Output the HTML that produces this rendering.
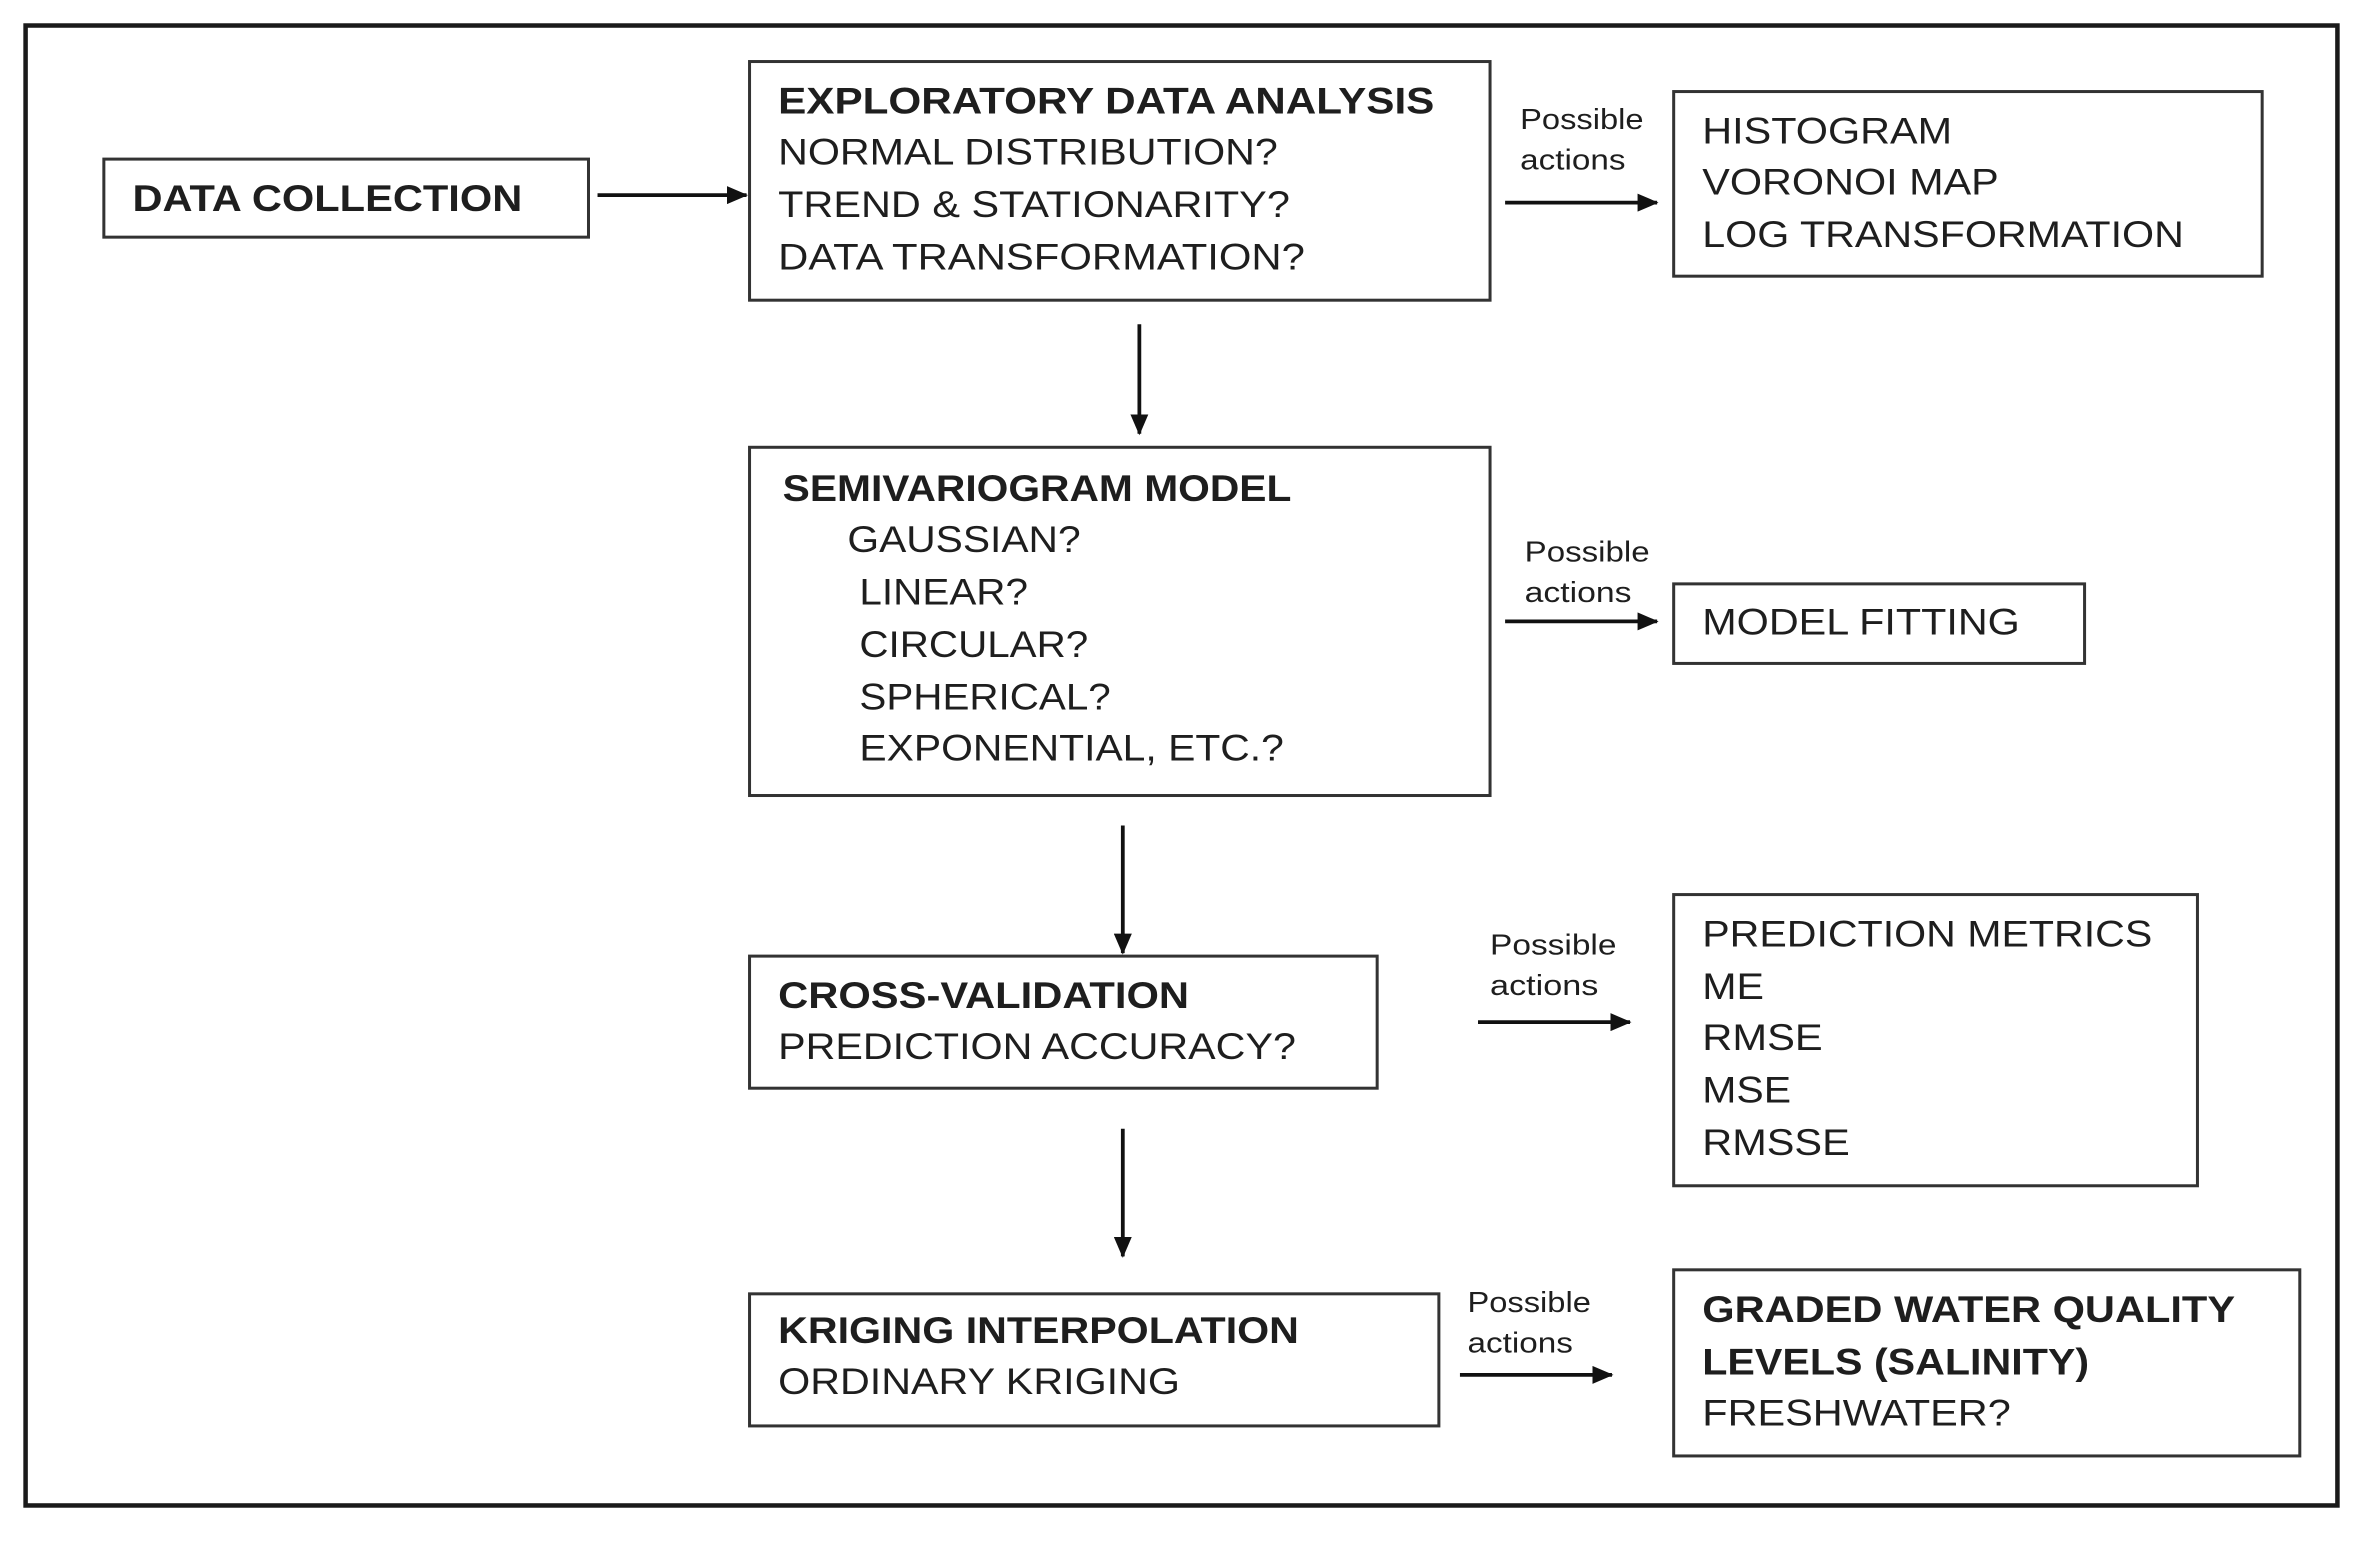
<!DOCTYPE html>
<html><head><meta charset="utf-8"><style>
html,body{margin:0;padding:0;background:#fff;}
svg{display:block;}
text{font-family:"Liberation Sans",Arial,sans-serif;fill:#1e1e1e;dominant-baseline:central;}
.b{font-weight:bold;font-size:25px;}
.n{font-size:25px;}
.s{font-size:19px;}
</style></head><body>
<svg width="2360" height="1546" viewBox="0 0 1568 1030" preserveAspectRatio="none" xmlns="http://www.w3.org/2000/svg">
<defs><marker id="a" markerWidth="8" markerHeight="8" refX="7" refY="4" orient="auto" markerUnits="userSpaceOnUse"><path d="M0,0 L8,4 L0,8 z" fill="#111"/></marker>
<marker id="a2" markerWidth="14" markerHeight="12" refX="13" refY="6" orient="auto" markerUnits="userSpaceOnUse"><path d="M0,0 L14,6 L0,12 z" fill="#111"/></marker></defs>
<rect x="17" y="17" width="1536" height="986" fill="none" stroke="#1a1a1a" stroke-width="3"/>
<g fill="none" stroke="#333" stroke-width="2">
<rect x="69" y="106" width="322" height="52"/>
<rect x="498" y="41" width="492" height="159"/>
<rect x="1112" y="61" width="391" height="123"/>
<rect x="498" y="298" width="492" height="232"/>
<rect x="1112" y="389" width="273" height="53"/>
<rect x="498" y="637" width="417" height="88"/>
<rect x="1112" y="596" width="348" height="194"/>
<rect x="498" y="862" width="458" height="88"/>
<rect x="1112" y="846" width="416" height="124"/>
</g>
<g stroke="#111" stroke-width="2.5" marker-end="url(#a2)">
<line x1="397" y1="130" x2="496" y2="130"/>
<line x1="1000" y1="135" x2="1101" y2="135"/>
<line x1="757" y1="216" x2="757" y2="289"/>
<line x1="1000" y1="414" x2="1101" y2="414"/>
<line x1="746" y1="550" x2="746" y2="635"/>
<line x1="982" y1="681" x2="1083" y2="681"/>
<line x1="746" y1="752" x2="746" y2="837"/>
<line x1="970" y1="916" x2="1071" y2="916"/>
</g>
<text class="b" x="88" y="132" textLength="259" lengthAdjust="spacingAndGlyphs">DATA COLLECTION</text>
<text class="b" x="517" y="67" textLength="436" lengthAdjust="spacingAndGlyphs">EXPLORATORY DATA ANALYSIS</text>
<text class="n" x="517" y="101" textLength="332" lengthAdjust="spacingAndGlyphs">NORMAL DISTRIBUTION?</text>
<text class="n" x="517" y="136" textLength="340" lengthAdjust="spacingAndGlyphs">TREND &amp; STATIONARITY?</text>
<text class="n" x="517" y="171" textLength="350" lengthAdjust="spacingAndGlyphs">DATA TRANSFORMATION?</text>
<text class="n" x="1131" y="87" textLength="166" lengthAdjust="spacingAndGlyphs">HISTOGRAM</text>
<text class="n" x="1131" y="121" textLength="197" lengthAdjust="spacingAndGlyphs">VORONOI MAP</text>
<text class="n" x="1131" y="156" textLength="320" lengthAdjust="spacingAndGlyphs">LOG TRANSFORMATION</text>
<text class="s" x="1010" y="80" textLength="82" lengthAdjust="spacingAndGlyphs">Possible</text>
<text class="s" x="1010" y="107" textLength="70" lengthAdjust="spacingAndGlyphs">actions</text>
<text class="b" x="520" y="325" textLength="338" lengthAdjust="spacingAndGlyphs">SEMIVARIOGRAM MODEL</text>
<text class="n" x="563" y="359" textLength="155" lengthAdjust="spacingAndGlyphs">GAUSSIAN?</text>
<text class="n" x="571" y="394" textLength="112" lengthAdjust="spacingAndGlyphs">LINEAR?</text>
<text class="n" x="571" y="429" textLength="152" lengthAdjust="spacingAndGlyphs">CIRCULAR?</text>
<text class="n" x="571" y="464" textLength="167" lengthAdjust="spacingAndGlyphs">SPHERICAL?</text>
<text class="n" x="571" y="498" textLength="282" lengthAdjust="spacingAndGlyphs">EXPONENTIAL, ETC.?</text>
<text class="s" x="1013" y="368" textLength="83" lengthAdjust="spacingAndGlyphs">Possible</text>
<text class="s" x="1013" y="395" textLength="71" lengthAdjust="spacingAndGlyphs">actions</text>
<text class="n" x="1131" y="414" textLength="211" lengthAdjust="spacingAndGlyphs">MODEL FITTING</text>
<text class="b" x="517" y="663" textLength="273" lengthAdjust="spacingAndGlyphs">CROSS-VALIDATION</text>
<text class="n" x="517" y="697" textLength="344" lengthAdjust="spacingAndGlyphs">PREDICTION ACCURACY?</text>
<text class="s" x="990" y="630" textLength="84" lengthAdjust="spacingAndGlyphs">Possible</text>
<text class="s" x="990" y="657" textLength="72" lengthAdjust="spacingAndGlyphs">actions</text>
<text class="n" x="1131" y="622" textLength="299" lengthAdjust="spacingAndGlyphs">PREDICTION METRICS</text>
<text class="n" x="1131" y="657" textLength="41" lengthAdjust="spacingAndGlyphs">ME</text>
<text class="n" x="1131" y="691" textLength="80" lengthAdjust="spacingAndGlyphs">RMSE</text>
<text class="n" x="1131" y="726" textLength="59" lengthAdjust="spacingAndGlyphs">MSE</text>
<text class="n" x="1131" y="761" textLength="98" lengthAdjust="spacingAndGlyphs">RMSSE</text>
<text class="b" x="517" y="886" textLength="346" lengthAdjust="spacingAndGlyphs">KRIGING INTERPOLATION</text>
<text class="n" x="517" y="920" textLength="267" lengthAdjust="spacingAndGlyphs">ORDINARY KRIGING</text>
<text class="s" x="975" y="868" textLength="82" lengthAdjust="spacingAndGlyphs">Possible</text>
<text class="s" x="975" y="895" textLength="70" lengthAdjust="spacingAndGlyphs">actions</text>
<text class="b" x="1131" y="872" textLength="354" lengthAdjust="spacingAndGlyphs">GRADED WATER QUALITY</text>
<text class="b" x="1131" y="907" textLength="257" lengthAdjust="spacingAndGlyphs">LEVELS (SALINITY)</text>
<text class="n" x="1131" y="941" textLength="205" lengthAdjust="spacingAndGlyphs">FRESHWATER?</text>
</svg>
</body></html>
